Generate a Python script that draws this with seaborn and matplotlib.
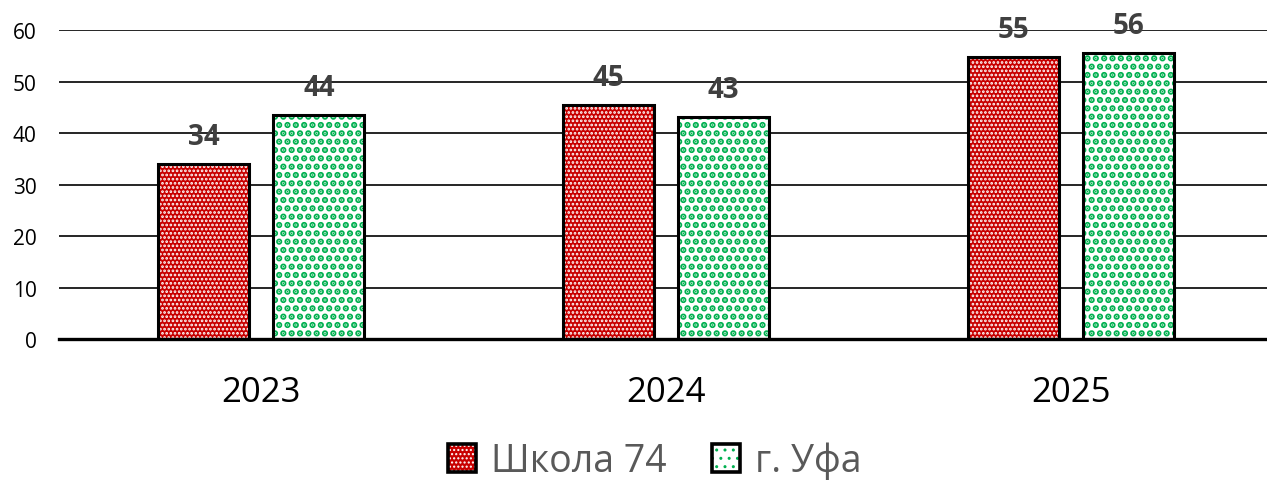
import matplotlib
matplotlib.use("Agg")
import matplotlib.pyplot as plt
from matplotlib.patches import Rectangle, Patch
from matplotlib.legend_handler import HandlerTuple
import seaborn as sns
import pandas as pd

# Values
years = ["2023", "2024", "2025"]
series_names = ["Школа 74", "г. Уфа"]
school_74 = [34.0, 45.4, 54.8]
ufa_city = [43.5, 43.2, 55.6]
y_ticks = [0, 10, 20, 30, 40, 50, 60]

df = pd.DataFrame({
    "year": years * 2,
    "series": [series_names[0]] * 3 + [series_names[1]] * 3,
    "value": school_74 + ufa_city,
})

sns.set_theme(style="white")
plt.rcParams["font.family"] = ["Open Sans", "DejaVu Sans"]

fig = plt.figure(figsize=(12.67, 4.81), dpi=100)
ax = fig.add_axes([59 / 1267, 0.293, (1273 - 59) / 1267, 0.642])

palette = {series_names[0]: "#C80000", series_names[1]: "#FFFFFF"}
sns.barplot(data=df, x="year", y="value", hue="series", order=years,
            hue_order=series_names, palette=palette, width=0.568, gap=0.21,
            legend=False, ax=ax, zorder=3)

# fill styles: fine white dots on red, coarse green dots on white
styles = [
    dict(face="#C80000", hatch_col="white", hatch="....", hlw=1.3),
    dict(face="white", hatch_col="#00B050", hatch="..", hlw=3.2),
]


def apply_fill(p, st):
    p.set_facecolor(st["face"])
    p.set_edgecolor(st["hatch_col"])
    p.set_linewidth(0)
    p.set_hatch(st["hatch"])
    if hasattr(p, "set_hatch_linewidth"):
        p.set_hatch_linewidth(st["hlw"])


for cont, st in zip(ax.containers, styles):
    for p in cont:
        apply_fill(p, st)
        ax.add_patch(Rectangle(p.get_xy(), p.get_width(), p.get_height(),
                               fill=False, edgecolor="black", linewidth=2.2,
                               zorder=4))
    ax.bar_label(cont, fmt="%.0f", padding=9.5, fontsize=20,
                 fontweight="bold", color="#404040", clip_on=False, zorder=5)

ax.set_ylim(0, 60)
ax.set_xlim(-0.5, 2.5)
ax.set_yticks(y_ticks)
ax.set_yticklabels([str(t) for t in y_ticks])
ax.yaxis.grid(True, color="black", linewidth=1.2, zorder=0)
ax.set_axisbelow(True)
for s in ["left", "right", "top"]:
    ax.spines[s].set_visible(False)
ax.spines["bottom"].set_color("black")
ax.spines["bottom"].set_linewidth(2.4)
ax.spines["bottom"].set_zorder(6)
ax.tick_params(axis="y", length=0, pad=16, labelsize=15, labelcolor="black")
ax.tick_params(axis="x", length=0, pad=26, labelsize=25, labelcolor="black")
ax.set_xlabel("")
ax.set_ylabel("")

# legend with hatched swatches and black outlines
handles = []
for st in styles:
    fillp = Patch()
    apply_fill(fillp, st)
    edge = Patch(facecolor="none", edgecolor="black", linewidth=2.6)
    handles.append((fillp, edge))
fig.legend(handles, series_names, loc="center",
           bbox_to_anchor=(655 / 1267, 1 - 462 / 481), ncol=2, frameon=False,
           fontsize=27, labelcolor="#595959", handlelength=0.75,
           handleheight=0.75, handletextpad=0.4, columnspacing=1.2,
           handler_map={tuple: HandlerTuple(ndivide=1, pad=0)})

fig.savefig("out.png", dpi=100)
